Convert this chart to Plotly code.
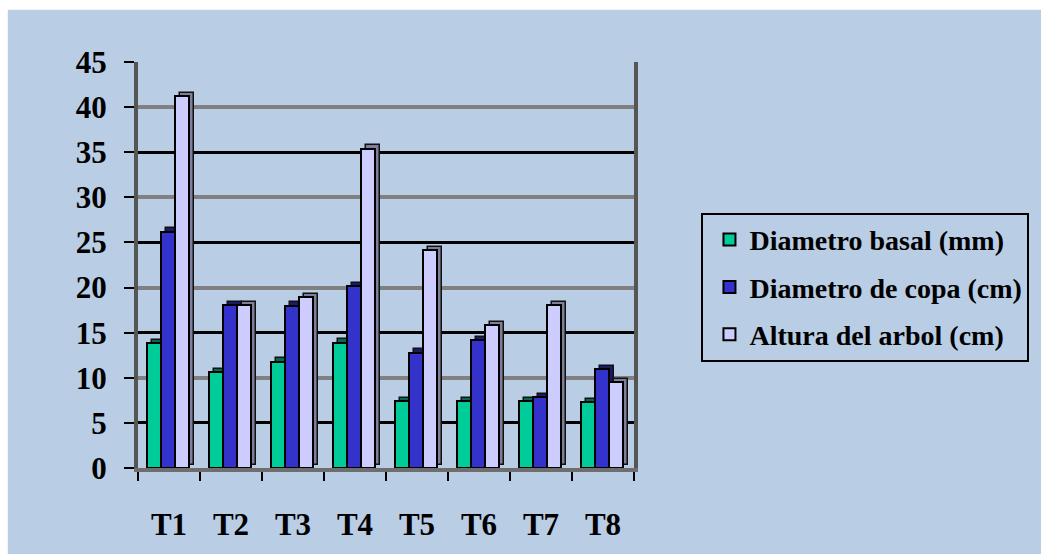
import plotly.graph_objects as go

# Tratamientos y mediciones
categories = ["T1", "T2", "T3", "T4", "T5", "T6", "T7", "T8"]
diametro_basal = [13.8, 10.6, 11.8, 13.9, 7.4, 7.4, 7.4, 7.3]
diametro_copa = [26.2, 18.1, 18.0, 20.2, 12.8, 14.2, 7.9, 11.0]
altura_arbol = [41.2, 18.1, 18.9, 35.4, 24.2, 15.8, 18.1, 9.5]
y_ticks = [0, 5, 10, 15, 20, 25, 30, 35, 40, 45]

series = [
    ("Diametro basal (mm)", diametro_basal, "#00CC99", "#006B50", -0.36),
    ("Diametro de copa (cm)", diametro_copa, "#3333CC", "#1A1A66", -0.13),
    ("Altura del arbol (cm)", altura_arbol, "#CCCCFF", "#7F7F99", 0.10),
]

BAR_W = 0.23
DEPTH_X = 0.08   # horizontal depth of the pseudo-3D columns (category units)
DEPTH_Y = 0.35   # vertical depth (value units)
BG = "#B9CDE5"
FONT = "Liberation Serif"

fig = go.Figure()
for i, (name, vals, face, side, off) in enumerate(series):
    # back/side face of each column
    fig.add_trace(go.Bar(
        x=categories, y=vals, base=DEPTH_Y, offset=off + DEPTH_X, width=BAR_W,
        marker=dict(color=side, line=dict(color="#111111", width=1.5)),
        showlegend=False, hoverinfo="skip", legendgroup=f"g{i}",
    ))
    # front face
    fig.add_trace(go.Bar(
        x=categories, y=vals, offset=off, width=BAR_W, name=name,
        marker=dict(color=face, line=dict(color="black", width=2)),
        legendgroup=f"g{i}",
    ))

# empty trace so the secondary grid axis is laid out
fig.add_trace(go.Scatter(x=[], y=[], yaxis="y2", showlegend=False))

fig.update_layout(
    width=1041, height=554,
    margin=dict(l=138, r=404, t=62, b=80),
    paper_bgcolor="white",
    plot_bgcolor=BG,
    barmode="overlay",
    bargap=0,
    font=dict(family=FONT, color="black"),
    shapes=[dict(type="rect", xref="paper", yref="paper",
                 x0=-0.2625, x1=2.0, y0=-0.3, y1=1.1286,
                 fillcolor=BG, line=dict(width=0), layer="below")],
    xaxis=dict(
        type="category", range=[-0.5, 7.5],
        showline=True, linecolor="#6E6E6E", linewidth=4,
        ticks="outside", tickson="boundaries", ticklen=9, tickwidth=2, tickcolor="black",
        tickfont=dict(family=FONT, size=31, color="black", weight="bold"),
        ticklabelstandoff=26,
        showgrid=False, zeroline=False,
    ),
    yaxis=dict(
        range=[0, 45], tickmode="array", tickvals=y_ticks,
        ticktext=[str(v) for v in y_ticks],
        showline=True, linecolor="#555555", linewidth=4, mirror=True,
        ticks="outside", ticklen=10, tickwidth=2, tickcolor="black",
        tickfont=dict(family=FONT, size=31, color="black", weight="bold"),
        ticklabelstandoff=11,
        showgrid=True, gridcolor="black", gridwidth=3, zeroline=False,
    ),
    yaxis2=dict(
        overlaying="y", side="left", range=[0, 45], dtick=10, tick0=0,
        showgrid=True, gridcolor="#808080", gridwidth=4,
        showticklabels=False, ticks="", zeroline=False, showline=False,
    ),
    legend=dict(
        x=1.136, y=0.6286, xanchor="left", yanchor="top",
        bgcolor=BG, bordercolor="black", borderwidth=2,
        font=dict(family=FONT, size=28, color="black", weight="bold"),
        tracegroupgap=8, indentation=6,
    ),
)

fig.write_html("out.html")
